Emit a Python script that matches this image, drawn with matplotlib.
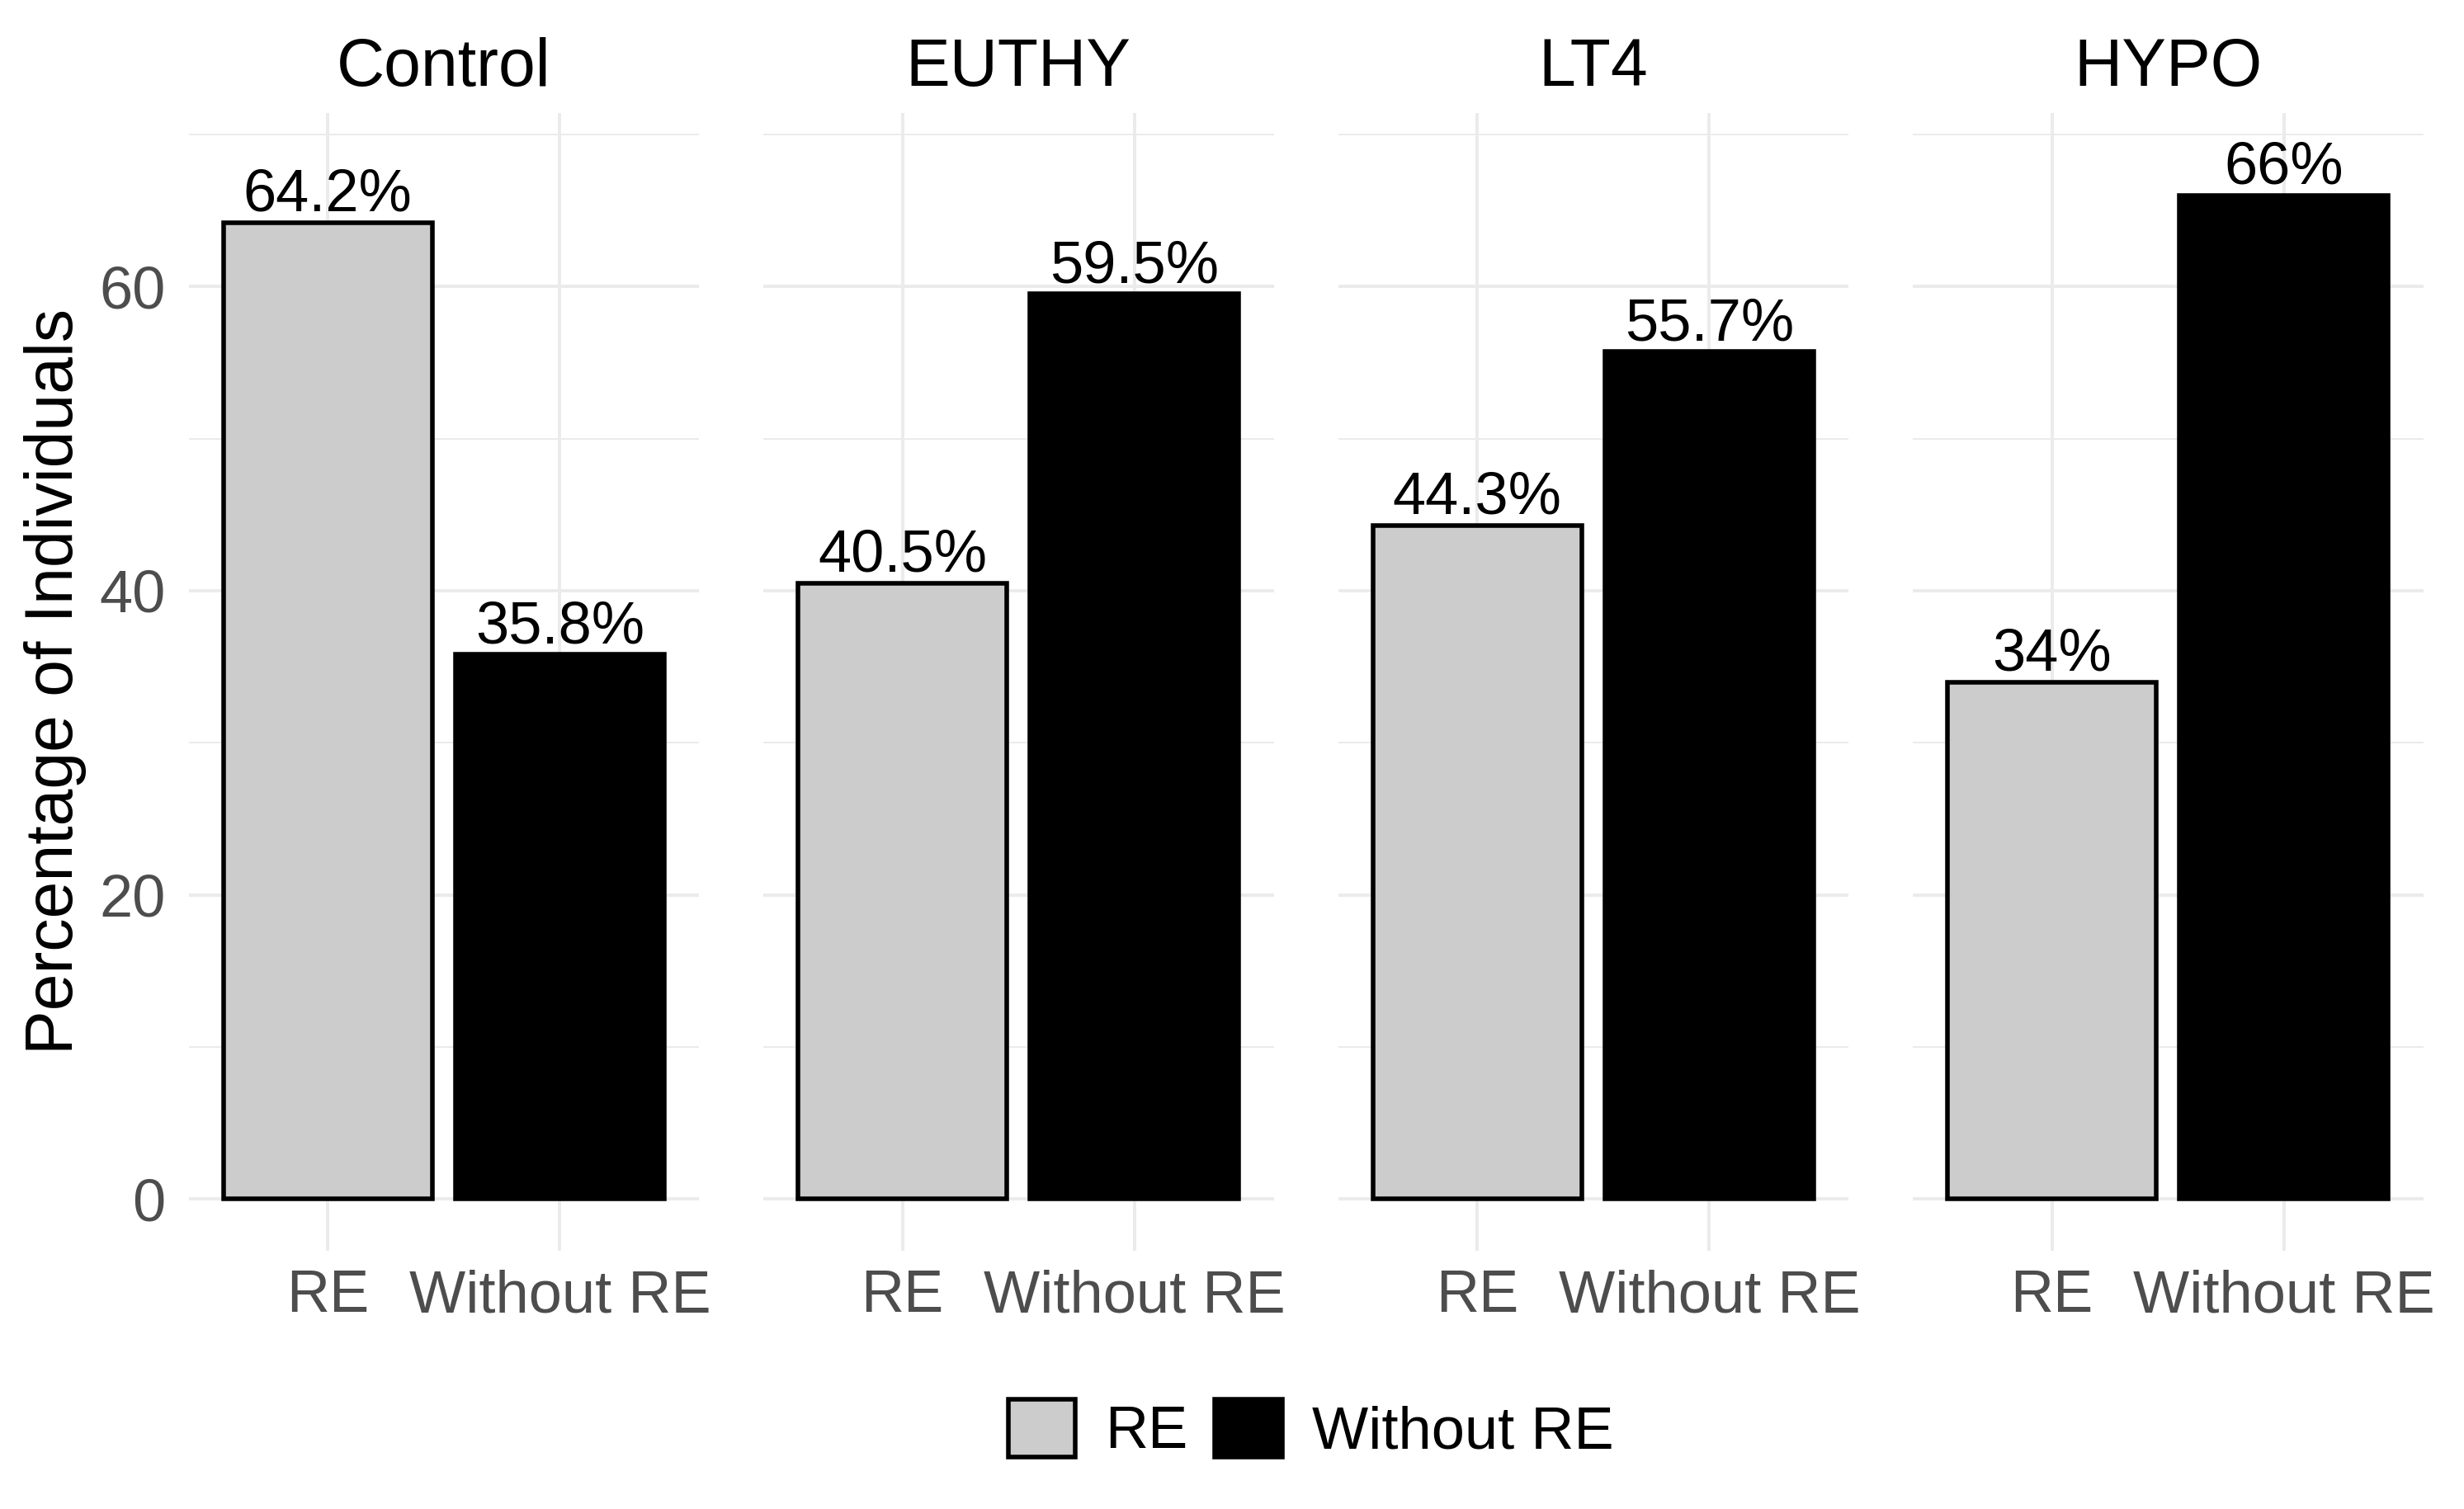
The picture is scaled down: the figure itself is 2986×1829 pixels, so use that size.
import matplotlib
matplotlib.use("Agg")
import matplotlib.pyplot as plt
from matplotlib.patches import Patch
from matplotlib.ticker import MultipleLocator

plt.rcParams["font.family"] = ["Liberation Sans", "DejaVu Sans"]

# data
groups = ["Control", "EUTHY", "LT4", "HYPO"]
categories = ["RE", "Without RE"]
re_pct = [64.2, 40.5, 44.3, 34.0]
without_re_pct = [35.8, 59.5, 55.7, 66.0]
y_ticks = [0, 20, 40, 60]

fills = {"RE": "#CCCCCC", "Without RE": "#000000"}
grid_col = "#EBEBEB"
tick_col = "#4D4D4D"

W, H, DPI = 2986, 1829, 200
fig = plt.figure(figsize=(W / DPI, H / DPI), dpi=DPI)

left0 = 228.5 / W
pw = 618.5 / W
step = 696.5 / W
bottom = 1 - 1516 / H
top = 1 - 137 / H

for i, grp in enumerate(groups):
    ax = fig.add_axes([left0 + i * step, bottom, pw, top - bottom])
    vals = [re_pct[i], without_re_pct[i]]
    xs = list(range(len(categories)))
    ax.bar(xs, vals, width=0.9, color=[fills[c] for c in categories],
           edgecolor="black", linewidth=2.0, zorder=3)
    for x, v in zip(xs, vals):
        ax.annotate(f"{v:g}%", xy=(x, v), xytext=(0, 5), textcoords="offset points",
                    ha="center", va="baseline", fontsize=26, color="black", zorder=4)

    ax.set_xlim(-0.6, 1.6)
    ax.set_ylim(-3.4, 71.4)
    ax.set_xticks(xs)
    ax.set_xticklabels(categories)
    ax.yaxis.set_major_locator(MultipleLocator(20))
    ax.yaxis.set_minor_locator(MultipleLocator(10))
    ax.set_yticks(y_ticks)

    ax.grid(True, which="major", color=grid_col, linewidth=1.42, zorder=0)
    ax.grid(True, which="minor", axis="y", color=grid_col, linewidth=0.71, zorder=0)
    ax.set_axisbelow(True)
    for s in ax.spines.values():
        s.set_visible(False)
    ax.tick_params(axis="both", which="both", length=0, labelsize=26, labelcolor=tick_col)
    ax.tick_params(axis="x", pad=8)
    ax.tick_params(axis="y", pad=10)
    if i > 0:
        ax.tick_params(axis="y", labelleft=False)

    ax.set_title(grp, fontsize=29, pad=12, color="black")

fig.text(67 / W, (bottom + top) / 2, "Percentage of Individuals", rotation=90,
         ha="center", va="center", fontsize=29)

handles = [Patch(facecolor=fills[c], edgecolor="black", linewidth=2.0) for c in categories]
fig.legend(handles, categories, loc="center", bbox_to_anchor=(0.532, 96 / H),
           ncol=2, frameon=False, fontsize=26, handlelength=1.13, handleheight=1.13,
           handletextpad=0.5, columnspacing=0.45)

fig.savefig("out.png", dpi=DPI)
